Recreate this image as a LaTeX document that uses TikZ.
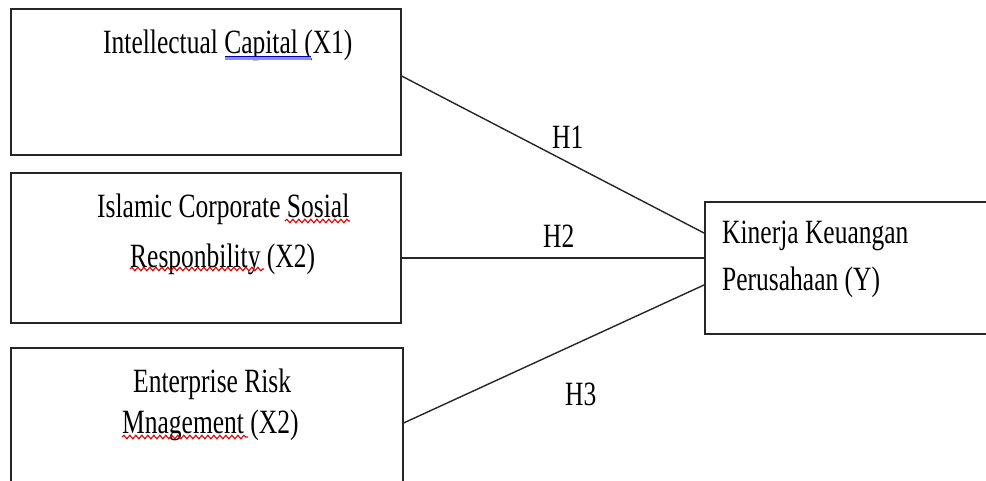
\documentclass[tikz,border=0pt]{standalone}
\usepackage{fontspec}
\setmainfont{Liberation Serif}[FakeStretch=0.75]
\usetikzlibrary{calc,decorations.pathmorphing}
\begin{document}
\begin{tikzpicture}[x=1pt,y=-1pt,
  box/.style={draw=black!85,line width=1.6pt,rectangle,inner sep=0pt,anchor=north west},
  lbl/.style={inner sep=0pt,anchor=base west,font=\fontsize{34}{40}\selectfont,text=black},
  link/.style={draw=black!85,line width=1.4pt},
  squig/.style={draw=red!90!black,line width=1.1pt,decorate,decoration={snake,segment length=6pt,amplitude=1.8pt}},
  spell/.style={draw=blue!45!white,line width=3pt}]
\useasboundingbox (0,0) rectangle (986,480);
\clip (0,0) rectangle (986,480);
\fill[white] (0,0) rectangle (986,480);
% boxes
\node[box,minimum width=390pt,minimum height=146pt] (b1) at (10,8) {};
\node[box,minimum width=390pt,minimum height=150pt] (b2) at (10,172) {};
\node[box,minimum width=392pt,minimum height=150pt] (b3) at (10,347) {};
\node[box,minimum width=300pt,minimum height=132pt] (y) at (704,201) {};
% texts
\node[lbl] (t1) at (103,53) {Intellectual Capital (X1)};
\node[lbl] (t2a) at (97,217) {Islamic Corporate Sosial};
\node[lbl] (t2b) at (130,267) {Responbility (X2)};
\node[lbl] (t3a) at (133,392) {Enterprise Risk};
\node[lbl] (t3b) at (122,433) {Mnagement (X2)};
\node[lbl] (ya) at (722,243) {Kinerja Keuangan};
\node[lbl] (yb) at (722,290) {Perusahaan (Y)};
% proofing marks
\draw[spell] (225,58) -- (311,58);
\draw[blue!70!black,line width=0.8pt] (225,56) -- (311,56);
\draw[squig] (285,221) -- (350,221);
\draw[squig] (130,269) -- (264,269);
\draw[squig] (122,437) -- (248,437);
% connectors
\draw[link] ($(b1.north east)+(0,68)$) -- ($(y.north west)+(0,32)$);
\draw[link] ($(b2.north east)+(0,86)$) -- ($(y.north west)+(0,57)$);
\draw[link] ($(b3.north east)+(0,76)$) -- ($(y.north west)+(0,84)$);
% labels
\node[lbl] (h1) at (552,148) {H1};
\node[lbl] (h2) at (543,247) {H2};
\node[lbl] (h3) at (565,405) {H3};
\end{tikzpicture}
\end{document}
